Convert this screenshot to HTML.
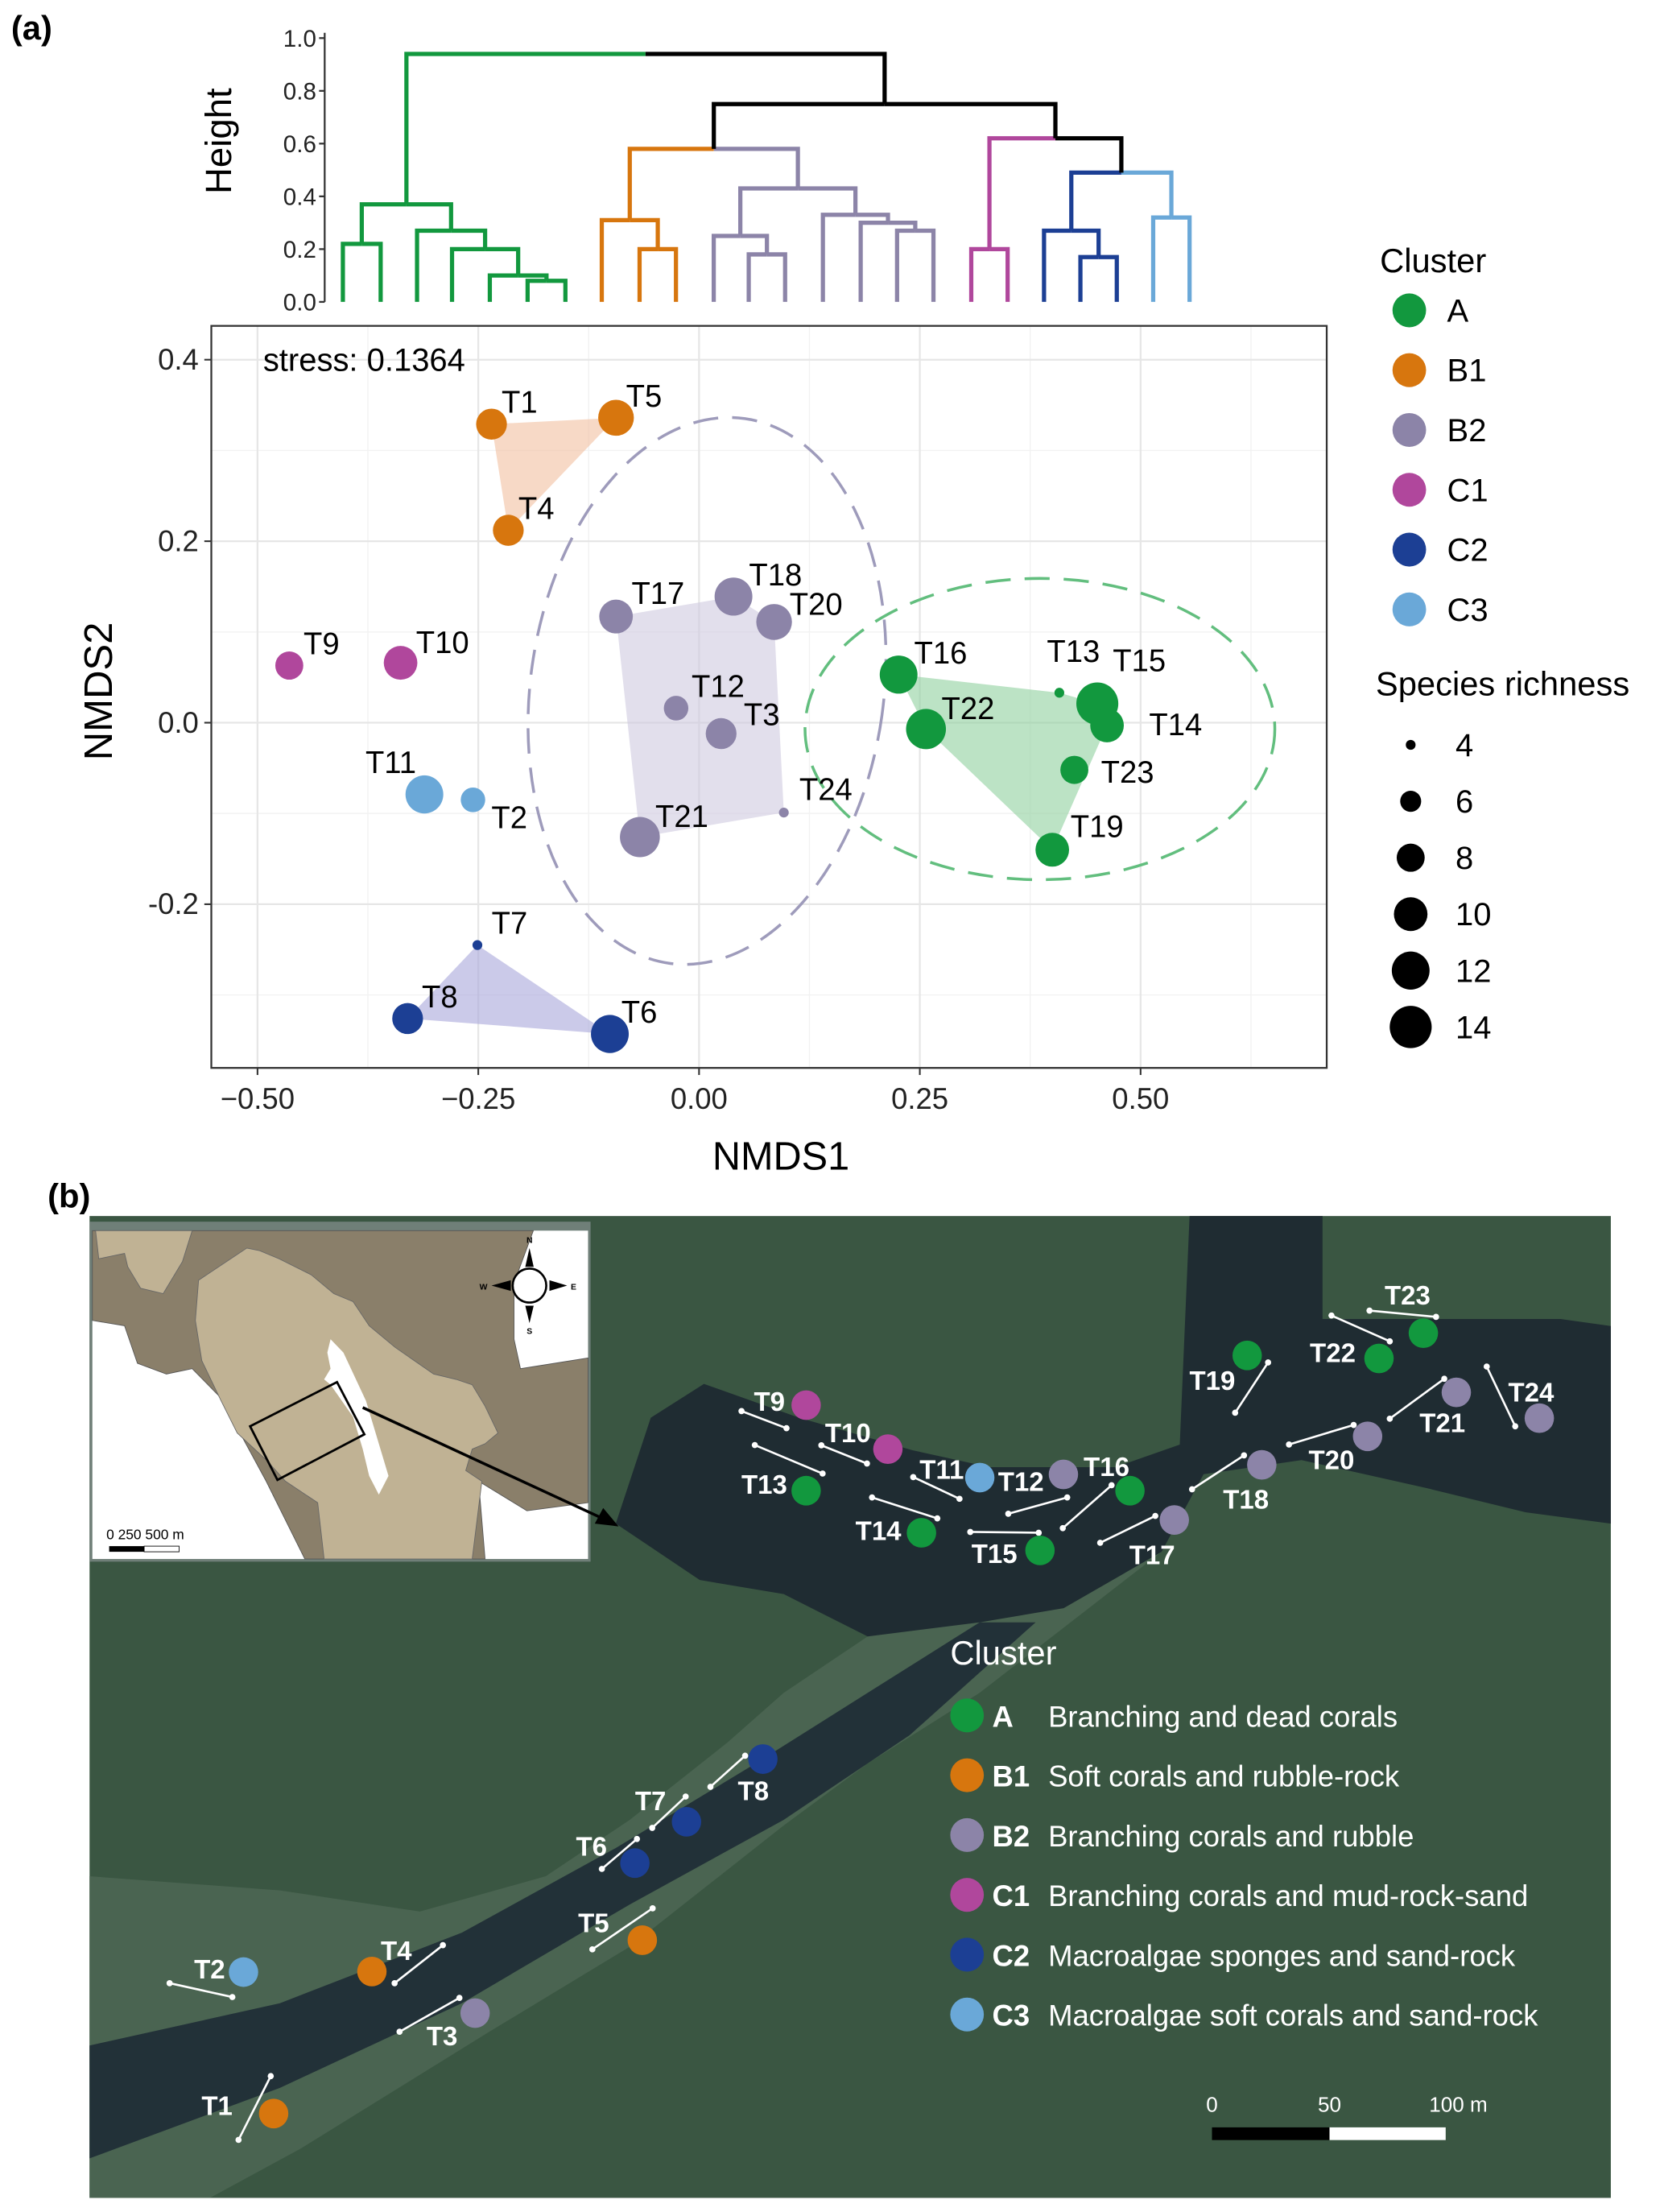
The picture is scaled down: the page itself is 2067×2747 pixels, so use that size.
<!DOCTYPE html>
<html><head><meta charset="utf-8"><style>
html,body{margin:0;padding:0;background:#fff}
svg{display:block}
text{font-family:"Liberation Sans",sans-serif}
</style></head><body>
<svg id="fig" xmlns="http://www.w3.org/2000/svg" width="2067" height="2747" viewBox="0 0 1189 1568" preserveAspectRatio="none">
<rect x="0" y="0" width="1189" height="1568" fill="#fff"/>
<text x="8" y="28" font-size="24" font-weight="bold">(a)</text>
<text x="34" y="856" font-size="24" font-weight="bold">(b)</text>
<g id="dendro"></g>
<g id="nmds"></g>
<g id="legendA"></g>
<g id="map"></g>
</svg>
<script>
// ---------- data ----------
const clusterNames = ['A','B1','B2','C1','C2','C3'];
const clusterColors = ['#12983e','#d7760e','#8c84a8','#b0479c','#1c3f94','#6aa8d8'];
const clusterDesc = ['Branching and dead corals','Soft corals and rubble-rock','Branching corals and rubble','Branching corals and mud-rock-sand','Macroalgae sponges and sand-rock','Macroalgae soft corals and sand-rock'];
const siteNames = ['T1','T5','T4','T9','T10','T11','T2','T17','T18','T20','T12','T3','T24','T21','T7','T8','T6','T16','T22','T13','T15','T14','T23','T19'];
const siteCluster = [1,1,1,3,3,5,5,2,2,2,2,2,2,2,4,4,4,0,0,0,0,0,0,0];
const nmds1 = [-0.235,-0.094,-0.216,-0.464,-0.338,-0.311,-0.256,-0.094,0.039,0.085,-0.026,0.025,0.096,-0.067,-0.251,-0.330,-0.101,0.226,0.257,0.408,0.451,0.462,0.425,0.400];
const nmds2 = [0.329,0.336,0.212,0.063,0.066,-0.079,-0.085,0.117,0.139,0.111,0.016,-0.012,-0.099,-0.126,-0.245,-0.326,-0.343,0.053,-0.007,0.033,0.021,-0.003,-0.052,-0.140];
const richness = [9,11,9,8,10,12,7,10,12,11,7,9,4,13,4,9,12,12,13,4,14,10,8,10];
const labelDx = [20,20,20,23,30,-24,26,30,30,30,30,29,30,30,23,23,21,30,30,10,30,49,38,32];
const labelDy = [-16,-16,-16,-16,-15,-23,12,-17,-16,-13,-16,-14,-17,-15,-16,-16,-16,-16,-15,-30,-31,-1,1,-17];
const xTicks = [-0.5,-0.25,0,0.25,0.5];
const xTickLabels = ['\u22120.50','\u22120.25','0.00','0.25','0.50'];
const yTicks = [-0.2,0,0.2,0.4];
const yTickLabels = ['-0.2','0.0','0.2','0.4'];
const sizeBreaks = [4,6,8,10,12,14];
const sizeRadii = [3.5,7.5,10,12,13.5,15];
// dendrogram
const leafX = [245,272,298,323,350,377,404,430,457,483,510,535,561,588,615,641,667,694,720,746,772,798,824,850];
const dendroNodes = [
 ['L0','L1',0.22,0,0],['L5','L6',0.08,0,0],['L4','N1',0.10,0,0],['L3','N2',0.20,0,0],['L2','N3',0.27,0,0],['N0','N4',0.37,0,0],
 ['L8','L9',0.20,1,1],['L7','N6',0.31,1,1],
 ['L11','L12',0.18,2,2],['L10','N8',0.25,2,2],['L15','L16',0.27,2,2],['L14','N10',0.30,2,2],['L13','N11',0.33,2,2],['N9','N12',0.43,2,2],
 ['N7','N13',0.58,1,2],
 ['L17','L18',0.20,3,3],['L20','L21',0.17,4,4],['L19','N16',0.27,4,4],['L22','L23',0.32,5,5],['N17','N18',0.49,4,5],
 ['N15','N19',0.62,3,-1],['N14','N20',0.75,-1,-1],['N5','N21',0.94,0,-1]];
const dendroTicks = [0,0.2,0.4,0.6,0.8,1.0];
// map sites
const mapNames1 = ['T9','T10','T13','T11','T12','T16','T14','T15','T17','T18','T20','T21','T24','T19','T22','T23'];
const mapCl1 = [3,3,0,5,2,0,0,0,2,2,2,2,2,0,0,0];
const mapPt1 = [[311,555],[440,717],[311,870],[585,822],[717,810],[822,870],[493,1025],[680,1090],[892,978],[1030,775],[1197,670],[1337,508],[1468,603],[1007,372],[1215,383],[1285,290]];
const mapLn1 = [[209,577,280,640],[335,703,407,770],[230,702,337,807],[480,820,553,900],[630,955,723,895],[716,1008,793,850],[415,895,518,972],[570,1022,678,1025],[775,1062,862,963],[920,865,1002,740],[1073,700,1175,628],[1232,605,1318,458],[1385,413,1430,633],[988,583,1040,398],[1140,225,1232,320],[1200,207,1305,230]];
const mapLb1 = [[253,540],[377,655],[245,845],[525,790],[650,835],[785,780],[425,1015],[608,1100],[857,1105],[1005,900],[1140,755],[1315,618],[1455,505],[952,462],[1142,360],[1260,148]];
const mapNames2 = ['T8','T7','T6','T5','T4','T2','T3','T1'];
const mapCl2 = [4,4,4,1,1,5,2,1];
const mapPt2 = [[1520,162],[1335,388],[1210,537],[1228,815],[573,928],[262,930],[823,1078],[335,1440]];
const mapLn2 = [[1393,262,1477,150],[1252,410,1333,297],[1130,558,1215,450],[1107,848,1253,700],[628,970,745,833],[83,970,235,1020],[640,1145,785,1023],[250,1535,328,1305]];
const mapLb2 = [[1497,275],[1248,310],[1105,475],[1110,750],[632,850],[180,918],[743,1158],[198,1410]];

// ---------- helpers ----------
const NS='http://www.w3.org/2000/svg';
function mk(tag, parent, attrs){const e=document.createElementNS(NS,tag);for(const k in attrs)e.setAttribute(k,attrs[k]);parent.appendChild(e);return e;}
function txt(parent, x, y, s, attrs){const t=mk('text',parent,Object.assign({x:x,y:y},attrs||{}));t.textContent=s;return t;}
function rad(v){for(let i=0;i<sizeBreaks.length-1;i++){if(v<=sizeBreaks[i+1]){const f=(v-sizeBreaks[i])/(sizeBreaks[i+1]-sizeBreaks[i]);return sizeRadii[i]+f*(sizeRadii[i+1]-sizeRadii[i]);}}return sizeRadii[sizeRadii.length-1];}

// ---------- dendrogram ----------
const D=document.getElementById('dendro');
const yH=h=>214-h*187;
const nodeX={};
function posOf(id){if(id[0]==='L')return {x:leafX[+id.slice(1)],h:0};return nodeX[id];}
dendroNodes.forEach((n,i)=>{
  const a=posOf(n[0]), b=posOf(n[1]); const h=n[2];
  const ca=n[3]<0?'#000':clusterColors[n[3]], cb=n[4]<0?'#000':clusterColors[n[4]];
  const mid=(a.x+b.x)/2;
  let e=mk('path',D,{d:`M${a.x},${yH(a.h)}V${yH(h)}H${mid}`,fill:'none',stroke:ca,'stroke-width':3});
  
  
  e=mk('path',D,{d:`M${b.x},${yH(b.h)}V${yH(h)}H${mid}`,fill:'none',stroke:cb,'stroke-width':3});
  
  
  nodeX['N'+i]={x:mid,h:h};
});
let ax=mk('line',D,{x1:232,y1:yH(1.02),x2:232,y2:yH(0),stroke:'#333','stroke-width':1.3});


dendroTicks.forEach(t=>{
  mk('line',D,{x1:228,y1:yH(t),x2:232,y2:yH(t),stroke:'#333','stroke-width':1.3});
  const l=txt(D,226,yH(t)+6,t.toFixed(1),{'font-size':17,'text-anchor':'end',fill:'#222'});
  
  
});
const ht=txt(D,0,0,'Height',{'font-size':26,'text-anchor':'middle',transform:'translate(165,100) rotate(-90)',fill:'#000'});



// ---------- NMDS ----------
const G=document.getElementById('nmds');
const PX0=151,PX1=948,PY0=231,PY1=757;
const sx=v=>499.5+v*631, sy=v=>512.3-v*643.3;
[-0.375,-0.125,0.125,0.375,0.625].forEach(v=>mk('line',G,{x1:sx(v),y1:PY0,x2:sx(v),y2:PY1,stroke:'#f2f2f2','stroke-width':0.8}));
[-0.3,-0.1,0.1,0.3].forEach(v=>mk('line',G,{x1:PX0,y1:sy(v),x2:PX1,y2:sy(v),stroke:'#f2f2f2','stroke-width':0.8}));
xTicks.forEach((v,i)=>{
  mk('line',G,{x1:sx(v),y1:PY0,x2:sx(v),y2:PY1,stroke:'#e6e6e6','stroke-width':1.3});
  mk('line',G,{x1:sx(v),y1:PY1,x2:sx(v),y2:PY1+5,stroke:'#333','stroke-width':1.2});
  const l=txt(G,sx(v),PY1+29,xTickLabels[i],{'font-size':21,'text-anchor':'middle',fill:'#222'});
  
  
});
yTicks.forEach((v,i)=>{
  mk('line',G,{x1:PX0,y1:sy(v),x2:PX1,y2:sy(v),stroke:'#e6e6e6','stroke-width':1.3});
  mk('line',G,{x1:PX0-5,y1:sy(v),x2:PX0,y2:sy(v),stroke:'#333','stroke-width':1.2});
  const l=txt(G,PX0-9,sy(v)+7,yTickLabels[i],{'font-size':21,'text-anchor':'end',fill:'#222'});
  
  
});
const hullFill=['#8fd19e','#f2bfa0','#cfcadf',null,'#a9a6da',null];
function hull(pts){pts=pts.slice().sort((a,b)=>a[0]-b[0]||a[1]-b[1]);const cr=(o,a,b)=>(a[0]-o[0])*(b[1]-o[1])-(a[1]-o[1])*(b[0]-o[0]);const lo=[],up=[];for(const p of pts){while(lo.length>=2&&cr(lo[lo.length-2],lo[lo.length-1],p)<=0)lo.pop();lo.push(p);}for(const p of pts.slice().reverse()){while(up.length>=2&&cr(up[up.length-2],up[up.length-1],p)<=0)up.pop();up.push(p);}up.pop();lo.pop();return lo.concat(up);}
clusterNames.forEach((c,ci)=>{
  if(!hullFill[ci])return;
  const pts=[];siteNames.forEach((s,i)=>{if(siteCluster[i]===ci)pts.push([sx(nmds1[i]),sy(nmds2[i])]);});
  if(pts.length<3)return;
  const h=hull(pts);
  const p=mk('polygon',G,{points:h.map(q=>q.join(',')).join(' '),fill:hullFill[ci],'fill-opacity':0.6});
  
  
});
const ellB2=[0.009,0.035,0.2,0.303,8], ellA=[0.386,-0.007,0.266,0.166,0];
[[ellB2,'#9e9bbb','ellipse-b2'],[ellA,'#62be7e','ellipse-a']].forEach(([e,col,nm])=>{
  const el=mk('ellipse',G,{cx:sx(e[0]),cy:sy(e[1]),rx:e[2]*631,ry:e[3]*643.3,fill:'none',stroke:col,'stroke-width':2,'stroke-dasharray':'18 10',transform:`rotate(${e[4]} ${sx(e[0])} ${sy(e[1])})`});
  
  
});
siteNames.forEach((s,i)=>{
  const x=sx(nmds1[i]),y=sy(nmds2[i]);
  const c=mk('circle',G,{cx:x,cy:y,r:rad(richness[i]),fill:clusterColors[siteCluster[i]]});
  
  
  const l=txt(G,x+labelDx[i],y+labelDy[i]+8,s,{'font-size':22,'text-anchor':'middle',fill:'#000'});
  
  
});
const frame=mk('rect',G,{x:PX0,y:PY0,width:PX1-PX0,height:PY1-PY0,fill:'none',stroke:'#333','stroke-width':1.3});


const st=txt(G,188,263,'stress: 0.1364',{'font-size':23,fill:'#000'});


const xt=txt(G,558,829,'NMDS1',{'font-size':28,'text-anchor':'middle',fill:'#000'});


const yt=txt(G,0,0,'NMDS2',{'font-size':28,'text-anchor':'middle',transform:'translate(80,490) rotate(-90)',fill:'#000'});



// ---------- legends (a) ----------
const L=document.getElementById('legendA');
let t=txt(L,986,193,'Cluster',{'font-size':24,fill:'#000'});


clusterNames.forEach((c,i)=>{
  const y=220+i*42.4;
  const ci=mk('circle',L,{cx:1007,cy:y,r:12,fill:clusterColors[i]});
  
  
  const tt=txt(L,1034,y+8,c,{'font-size':23,fill:'#000'});
  
  
});
t=txt(L,983,493,'Species richness',{'font-size':24,fill:'#000'});


sizeBreaks.forEach((v,i)=>{
  const y=528+i*40;
  const ci=mk('circle',L,{cx:1008,cy:y,r:rad(v),fill:'#000'});
  
  
  const tt=txt(L,1040,y+8,String(v),{'font-size':23,fill:'#000'});
  
  
});

// ---------- map ----------
const M=document.getElementById('map');
let r=mk('rect',M,{x:64,y:862,width:1087,height:696,fill:'#3a5642'});


let p=mk('polygon',M,{points:'64,1330 200,1340 300,1355 390,1330 450,1290 520,1235 560,1200 620,1160 700,1140 760,1140 830,1100 700,1200 620,1250 560,1294 450,1380 350,1440 215,1523 150,1558 64,1558',fill:'#4a6451'});


p=mk('polygon',M,{points:'64,1450 200,1420 330,1370 440,1310 540,1250 620,1200 700,1150 740,1150 650,1230 560,1290 450,1350 330,1420 200,1480 64,1530',fill:'#223138'});


p=mk('polygon',M,{points:'440,1080 465,1005 503,981 571,1005 652,1028 707,1040 797,1040 843,1024 850,862 945,862 945,935 1115,935 1151,940 1151,1080 1090,1072 1020,1055 930,1035 860,1045 830,1100 760,1140 700,1150 620,1160 560,1130 500,1120',fill:'#1f2c32'});


// inset
const IX=zx=>61.4+0.23*zx, IY=zy=>860+0.19*zy;
const ipts=arr=>arr.map(q=>IX(q[0])+','+IY(q[1])).join(' ');
const INS=mk('g',M,{});


mk('rect',INS,{x:64,y:866,width:358,height:241,fill:'#6f7f78'});
mk('rect',INS,{x:IX(20),y:IY(65),width:IX(1560)-IX(20),height:IY(1290)-IY(65),fill:'#fff'});
mk('polygon',INS,{points:ipts([[20,65],[1390,65],[1330,260],[1330,470],[1350,580],[1560,540],[1560,1080],[1370,1110],[1220,1000],[1240,1290],[680,1290],[560,1000],[420,690],[330,580],[250,600],[160,560],[120,420],[20,400]]),fill:'#8a7f6a',stroke:'#555','stroke-width':0.5});
mk('polygon',INS,{points:ipts([[350,250],[500,130],[540,140],[600,170],[700,230],[770,300],[830,330],[880,420],[960,500],[1080,600],[1150,620],[1200,640],[1240,720],[1280,820],[1240,860],[1200,880],[1180,960],[1230,1000],[1200,1290],[740,1290],[720,1080],[620,1000],[560,920],[470,820],[420,700],[360,550],[340,400]]),fill:'#c0b294',stroke:'#666','stroke-width':0.5});
mk('polygon',INS,{points:ipts([[30,65],[330,65],[300,180],[240,300],[170,280],[130,200],[120,150],[40,170]]),fill:'#c0b294',stroke:'#666','stroke-width':0.5});
mk('polygon',INS,{points:ipts([[760,470],[800,520],[870,700],[920,900],[940,980],[910,1050],[880,980],[860,880],[830,760],[760,640],[740,620],[760,580],[750,520]]),fill:'#fff'});
mk('polygon',INS,{points:ipts([[510,795],[780,630],[865,825],[595,995]]),fill:'none',stroke:'#000','stroke-width':1.6});
mk('ellipse',INS,{cx:IX(1378),cy:IY(270),rx:12,ry:12,fill:'#fff',stroke:'#000','stroke-width':1.5});
mk('polygon',INS,{points:`${IX(1378)-3},${IY(200)} ${IX(1378)},${IY(130)} ${IX(1378)+3},${IY(200)}`,fill:'#000'});
mk('polygon',INS,{points:`${IX(1378)-3},${IY(345)} ${IX(1378)},${IY(410)} ${IX(1378)+3},${IY(345)}`,fill:'#000'});
mk('polygon',INS,{points:`${IX(1320)},${IY(250)} ${IX(1260)},${IY(270)} ${IX(1320)},${IY(290)}`,fill:'#000'});
mk('polygon',INS,{points:`${IX(1440)},${IY(250)} ${IX(1495)},${IY(270)} ${IX(1440)},${IY(290)}`,fill:'#000'});
txt(INS,IX(1378),IY(110),'N',{'font-size':6,'font-weight':'bold','text-anchor':'middle'});
txt(INS,IX(1378),IY(450),'S',{'font-size':6,'font-weight':'bold','text-anchor':'middle'});
txt(INS,IX(1235),IY(285),'W',{'font-size':6,'font-weight':'bold','text-anchor':'middle'});
txt(INS,IX(1515),IY(285),'E',{'font-size':6,'font-weight':'bold','text-anchor':'middle'});
txt(INS,76,1091,'0   250  500 m',{'font-size':10,fill:'#000'});
mk('rect',INS,{x:78,y:1096,width:25,height:4,fill:'#000'});
mk('rect',INS,{x:103,y:1096,width:25,height:4,fill:'#fff',stroke:'#000','stroke-width':0.5});
const arr=mk('line',M,{x1:IX(860),y1:IY(725),x2:432,y2:1077,stroke:'#000','stroke-width':2});


mk('polygon',M,{points:'442,1082 425,1080 431,1069',fill:'#000'});
function drawSites(names,cls,pts,lns,lbs,fx,fy){
  names.forEach((s,i)=>{
    const ln=lns[i];
    const g=mk('g',M,{});
    
    
    mk('line',g,{x1:fx(ln[0]),y1:fy(ln[1]),x2:fx(ln[2]),y2:fy(ln[3]),stroke:'#fff','stroke-width':1.5});
    mk('circle',g,{cx:fx(ln[0]),cy:fy(ln[1]),r:2.2,fill:'#fff'});
    mk('circle',g,{cx:fx(ln[2]),cy:fy(ln[3]),r:2.2,fill:'#fff'});
    mk('circle',g,{cx:fx(pts[i][0]),cy:fy(pts[i][1]),r:10.5,fill:clusterColors[cls[i]]});
    txt(g,fx(lbs[i][0]),fy(lbs[i][1])+7,s,{'font-size':19,'font-weight':'bold','text-anchor':'middle',fill:'#fff'});
  });
}
drawSites(mapNames1,mapCl1,mapPt1,mapLn1,mapLb1,zx=>435.2+0.4528*zx,zy=>889.2+0.1925*zy);
drawSites(mapNames2,mapCl2,mapPt2,mapLn2,mapLb2,zx=>96.7+0.295*zx,zy=>1215.1+0.1966*zy);
const ML=mk('g',M,{});


txt(ML,679,1180,'Cluster',{'font-size':24,fill:'#fff'});
clusterNames.forEach((c,i)=>{
  const y=1216+i*42.4;
  const ci=mk('circle',ML,{cx:691,cy:y,r:12,fill:clusterColors[i]});
  
  
  txt(ML,709,y+8,c,{'font-size':21,'font-weight':'bold',fill:'#fff'});
  txt(ML,749,y+8,clusterDesc[i],{'font-size':21,fill:'#fff'});
});
const SB=mk('g',M,{});


mk('rect',SB,{x:866,y:1508,width:84,height:9,fill:'#000'});
mk('rect',SB,{x:950,y:1508,width:83,height:9,fill:'#fff'});
txt(SB,866,1497,'0',{'font-size':15,'text-anchor':'middle',fill:'#fff'});
txt(SB,950,1497,'50',{'font-size':15,'text-anchor':'middle',fill:'#fff'});
txt(SB,1042,1497,'100 m',{'font-size':15,'text-anchor':'middle',fill:'#fff'});
</script>
</body></html>
